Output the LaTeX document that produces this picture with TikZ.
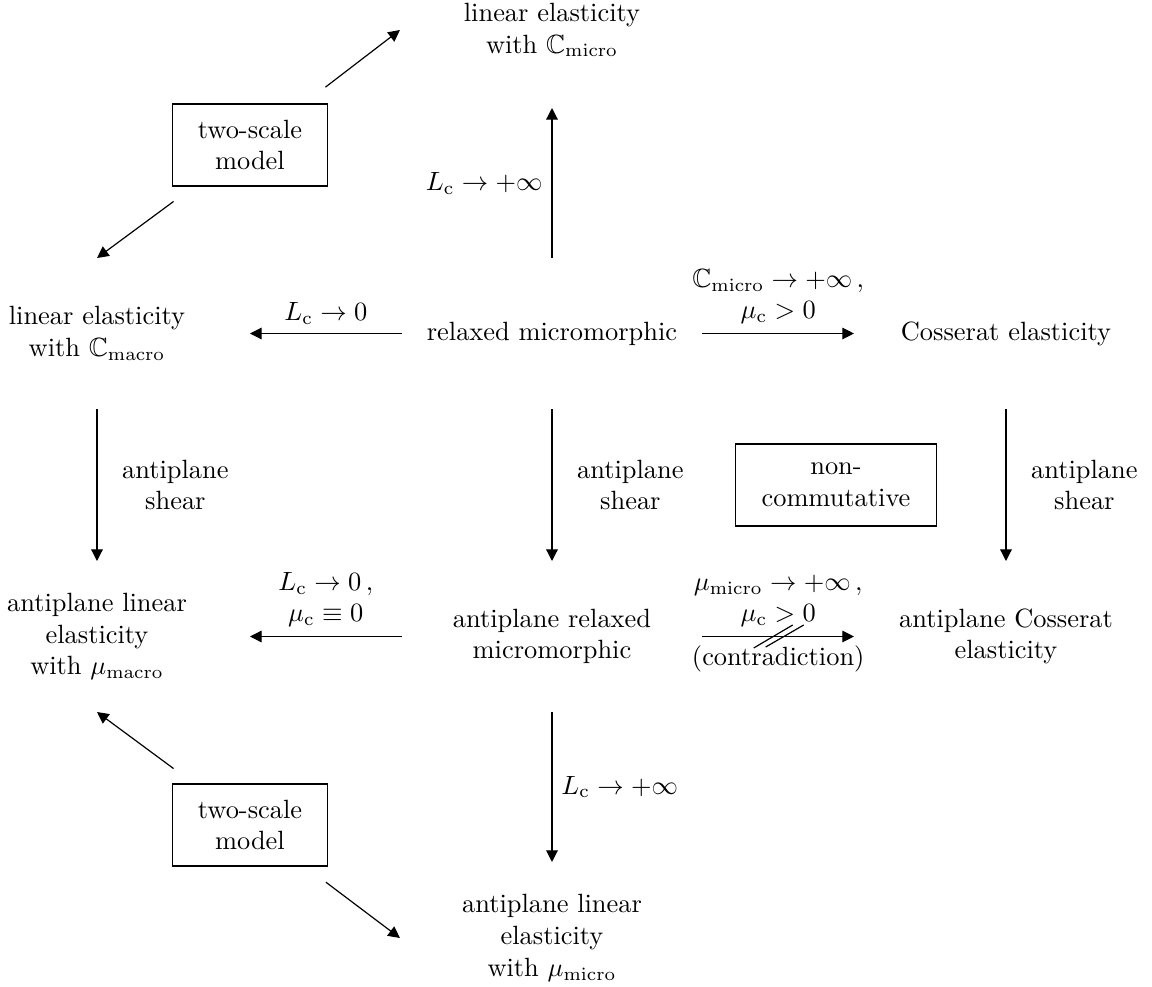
\documentclass[tikz,border=0pt]{standalone}
\usepackage{amsmath,amssymb}
\usetikzlibrary{arrows.meta,calc}
\begin{document}
\begin{tikzpicture}[x=0.3788pt,y=-0.3788pt,
  main/.style={align=center,inner sep=0pt,outer sep=0pt},
  boxed/.style={draw,align=center,minimum height=31.06pt,inner sep=0pt,outer sep=0pt,line width=0.4pt},
  arr/.style={-{Triangle[length=4.4pt,width=4.4pt]},line width=0.45pt},
  lbl/.style={align=center,inner sep=3.33pt}]
\useasboundingbox (0,0) rectangle (1152,987);
% main nodes (invisible boxes sized so that their borders are the arrow ends)
\node[main,minimum width=115.2pt,minimum height=59.1pt] (top) at (552,30) {linear elasticity\\with $\mathbb{C}_{\mathrm{micro}}$};
\node[main,minimum width=114pt,minimum height=57.2pt] (rm) at (552,333.5) {relaxed micromorphic};
\node[main,minimum width=115.9pt,minimum height=57.2pt] (lem) at (97,333.5) {linear elasticity\\with $\mathbb{C}_{\mathrm{macro}}$};
\node[main,minimum width=115.2pt,minimum height=57.2pt] (cos) at (1006,333.5) {Cosserat elasticity};
\node[main,minimum width=114pt,minimum height=57.2pt] (arm) at (552,636.5) {antiplane relaxed\\micromorphic};
\node[main,minimum width=115.9pt,minimum height=57.2pt] (alm) at (97,636.5) {antiplane linear\\elasticity\\with $\mu_{\mathrm{macro}}$};
\node[main,minimum width=115.2pt,minimum height=57.2pt] (acos) at (1006,636.5) {antiplane Cosserat\\elasticity};
\node[main,minimum width=115.2pt,minimum height=57.6pt] (bot) at (552,938) {antiplane linear\\elasticity\\with $\mu_{\mathrm{micro}}$};
% framed boxes
\node[boxed,minimum width=58.7pt] (ts1) at (250,145) {two-scale\\model};
\node[boxed,minimum width=58.7pt] (ts2) at (250,825) {two-scale\\model};
\node[boxed,minimum width=75.8pt] (nc) at (836,485) {non-\\commutative};
% connectors
\draw[arr] (rm.north) -- node[lbl,left]{$L_{\mathrm{c}}\to+\infty$} (top.south);
\draw[arr] (rm.west) -- node[lbl,above]{$L_{\mathrm{c}}\to0$} (lem.east);
\draw[arr] (rm.east) -- node[lbl,above]{$\mathbb{C}_{\mathrm{micro}}\to+\infty\,,$\\$\mu_{\mathrm{c}}>0$} (cos.west);
\draw[arr] (lem.south) -- node[lbl,right=6pt]{antiplane\\shear} (alm.north);
\draw[arr] (rm.south) -- node[lbl,right=6pt]{antiplane\\shear} (arm.north);
\draw[arr] (cos.south) -- node[lbl,right=6pt]{antiplane\\shear} (acos.north);
\draw[arr] (arm.west) -- node[lbl,above]{$L_{\mathrm{c}}\to0\,,$\\$\mu_{\mathrm{c}}\equiv0$} (alm.east);
\draw[arr] (arm.east) -- node[lbl,above]{$\mu_{\mathrm{micro}}\to+\infty\,,$\\$\mu_{\mathrm{c}}>0$} node[lbl,below]{(contradiction)} coordinate[pos=0.5] (mid) (acos.west);
\draw[line width=0.45pt] ($(mid)+(-24.5,11.5)$) -- ($(mid)+(14.5,-11.5)$);
\draw[line width=0.45pt] ($(mid)+(-12.5,10.5)$) -- ($(mid)+(25.5,-11.5)$);
\draw[arr] (arm.south) -- node[lbl,right]{$L_{\mathrm{c}}\to+\infty$} (bot.north);
\draw[arr,shorten <=36pt] (ts1.center) -- (top.west);
\draw[arr,shorten <=36pt] (ts1.center) -- (lem.north);
\draw[arr,shorten <=36pt] (ts2.center) -- (alm.south);
\draw[arr,shorten <=36pt] (ts2.center) -- (bot.west);
\end{tikzpicture}
\end{document}
